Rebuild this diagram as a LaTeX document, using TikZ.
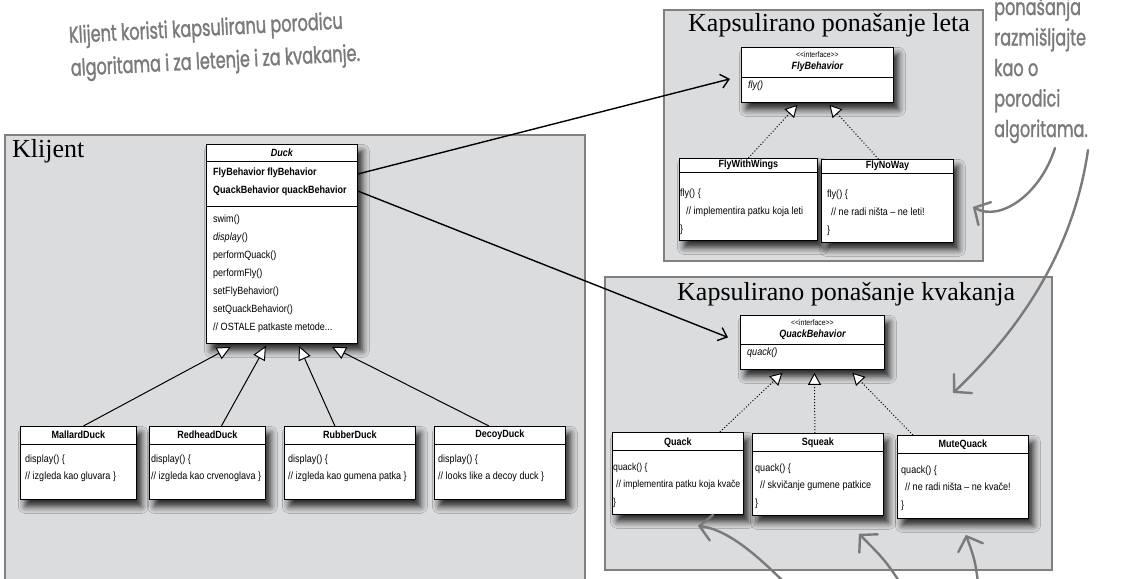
\documentclass[tikz,border=0pt]{standalone}
\usepackage{fontspec}
\setmainfont{Liberation Serif}
\newfontfamily\umlfont[FakeStretch=0.86]{Liberation Sans}
\newfontfamily\handfont[FakeStretch=0.70,FakeBold=1.2]{Poppins}
\usetikzlibrary{arrows.meta,shadows.blur}
\definecolor{panelgray}{RGB}{219,220,222}
\definecolor{panelline}{RGB}{128,128,128}
\definecolor{handgray}{RGB}{122,122,122}
\tikzset{
  panel/.style={draw=panelline,line width=2pt,fill=panelgray,anchor=north west,inner sep=0pt},
  paneltitle/.style={anchor=base west,inner sep=0pt,font=\fontsize{26}{30}\selectfont},
  classbox/.style={draw,line width=.8pt,fill=white,anchor=north west,inner sep=0pt,
    blur shadow={shadow xshift=5pt,shadow yshift=-7pt,shadow blur radius=7pt,shadow opacity=85}},
  classname/.style={inner sep=0pt,font=\umlfont\fontsize{10.5}{12}\selectfont\bfseries},
  ifacename/.style={inner sep=0pt,font=\umlfont\fontsize{10.5}{12}\selectfont\bfseries\itshape},
  stereo/.style={inner sep=0pt,font=\umlfont\fontsize{8}{9}\selectfont},
  classtext/.style={anchor=base west,inner sep=0pt,align=left,font=\umlfont\fontsize{10.5}{17.5}\selectfont},
  fieldtext/.style={anchor=base west,inner sep=0pt,align=left,font=\umlfont\fontsize{10.5}{18}\selectfont\bfseries},
  sepline/.style={line width=.8pt},
  uses/.style={-{Straight Barb[length=8pt,width=14pt]},line width=1.4pt},
  inherits/.style={-{Triangle[length=14pt,width=13pt,fill=white]},line width=1pt},
  implements/.style={-{Triangle[length=12pt,width=13pt,fill=white]},line width=1pt,dotted},
  handnote/.style={inner sep=0pt,align=left,text=handgray,font=\handfont\fontsize{23}{33}\selectfont},
  handarrow/.style={draw=handgray,line width=2.4pt,line cap=round,-{Straight Barb[length=12pt,width=26pt,line cap=round]}}
}

\begin{document}
\begin{tikzpicture}[x=1pt,y=-1pt]
  \clip (0,0) rectangle (1131,578);

  % handwritten notes (base = last line)
  \node[handnote,anchor=base west,rotate=3] (clientnote) at (71,76) {Klijent koristi kapsuliranu porodicu\\algoritama i za letenje i za kvakanje.};
  \node[handnote,anchor=base west,font=\handfont\fontsize{23}{30.5}\selectfont] (familynote) at (994,137) {ponašanja\\razmišljajte\\kao o\\porodici\\algoritama.};

  % the three grey frames
  \node[panel,minimum width=580,minimum height=470] (clientpanel) at (4,134) {};
  \node[paneltitle] (clienttitle) at (12,157) {Klijent};
  \node[panel,minimum width=319,minimum height=251] (flypanel) at (663,9) {};
  \node[paneltitle] (flytitle) at (688,32) {Kapsulirano ponašanje leta};
  \node[panel,minimum width=447,minimum height=293] (quackpanel) at (604,276) {};
  \node[paneltitle] (quacktitle) at (677,300) {Kapsulirano ponašanje kvakanja};

  % Duck
  \node[classbox,minimum width=151,minimum height=199] (duck) at (206,144) {};
  \draw[sepline] ([yshift=-17pt]duck.north west) -- ([yshift=-17pt]duck.north east);
  \draw[sepline] ([yshift=-62pt]duck.north west) -- ([yshift=-62pt]duck.north east);
  \node[ifacename] (duckname) at ([yshift=-9pt]duck.north) {Duck};
  \node[fieldtext] (duckfields) at ([xshift=7pt,yshift=-49pt]duck.north west) {FlyBehavior flyBehavior\\QuackBehavior quackBehavior};
  \node[classtext,font=\umlfont\fontsize{10.5}{18}\selectfont] (duckmethods) at ([xshift=7pt,yshift=-186pt]duck.north west) {swim()\\\textit{display}()\\performQuack()\\performFly()\\setFlyBehavior()\\setQuackBehavior()\\// OSTALE patkaste metode...};

  % ducks
  \node[classbox,minimum width=116,minimum height=73] (mallard) at (20,426) {};
  \draw[sepline] ([yshift=-18pt]mallard.north west) -- ([yshift=-18pt]mallard.north east);
  \node[classname] (mallardname) at ([yshift=-9pt]mallard.north) {MallardDuck};
  \node[classtext] (mallardbody) at ([xshift=5pt,yshift=-53.5pt]mallard.north west) {display() \{\\// izgleda kao gluvara \}};

  \node[classbox,minimum width=116,minimum height=73] (redhead) at (149,426) {};
  \draw[sepline] ([yshift=-18pt]redhead.north west) -- ([yshift=-18pt]redhead.north east);
  \node[classname] (redheadname) at ([yshift=-9pt]redhead.north) {RedheadDuck};
  \node[classtext] (redheadbody) at ([xshift=2pt,yshift=-53.5pt]redhead.north west) {display() \{\\// izgleda kao crvenoglava \}};

  \node[classbox,minimum width=131,minimum height=73] (rubber) at (284,426) {};
  \draw[sepline] ([yshift=-18pt]rubber.north west) -- ([yshift=-18pt]rubber.north east);
  \node[classname] (rubbername) at ([yshift=-9pt]rubber.north) {RubberDuck};
  \node[classtext] (rubberbody) at ([xshift=4pt,yshift=-53.5pt]rubber.north west) {display() \{\\// izgleda kao gumena patka \}};

  \node[classbox,minimum width=131,minimum height=73] (decoy) at (434,426) {};
  \draw[sepline] ([yshift=-18pt]decoy.north west) -- ([yshift=-18pt]decoy.north east);
  \node[classname] (decoyname) at ([yshift=-9pt]decoy.north) {DecoyDuck};
  \node[classtext] (decoybody) at ([xshift=4pt,yshift=-53.5pt]decoy.north west) {display() \{\\// looks like a decoy duck \}};

  % fly behaviour
  \node[classbox,minimum width=152,minimum height=55] (flybeh) at (741,47) {};
  \draw[sepline] ([yshift=-30pt]flybeh.north west) -- ([yshift=-30pt]flybeh.north east);
  \node[stereo] (flystereo) at ([yshift=-8pt]flybeh.north) {<<interface>>};
  \node[ifacename] (flyname) at ([yshift=-20pt]flybeh.north) {FlyBehavior};
  \node[classtext] (flymethods) at ([xshift=7pt,yshift=-41pt]flybeh.north west) {\textit{fly()}};

  \node[classbox,minimum width=138,minimum height=82] (flywings) at (679,158) {};
  \draw[sepline] ([yshift=-14pt]flywings.north west) -- ([yshift=-14pt]flywings.north east);
  \node[classname] (flywingsname) at ([yshift=-7pt]flywings.north) {FlyWithWings};
  \node[classtext,font=\umlfont\fontsize{10.5}{18}\selectfont] (flywingsbody) at ([xshift=1pt,yshift=-74pt]flywings.north west) {fly() \{\\\hspace*{6pt}// implementira patku koja leti\\\}};

  \node[classbox,minimum width=132,minimum height=83] (flynoway) at (821,159) {};
  \draw[sepline] ([yshift=-14pt]flynoway.north west) -- ([yshift=-14pt]flynoway.north east);
  \node[classname] (flynowayname) at ([yshift=-7pt]flynoway.north) {FlyNoWay};
  \node[classtext,font=\umlfont\fontsize{10.5}{18}\selectfont] (flynowaybody) at ([xshift=6pt,yshift=-74pt]flynoway.north west) {fly() \{\\\hspace*{4pt}// ne radi ništa – ne leti!\\\}};

  % quack behaviour
  \node[classbox,minimum width=144,minimum height=54] (quackbeh) at (740,315) {};
  \draw[sepline] ([yshift=-29pt]quackbeh.north west) -- ([yshift=-29pt]quackbeh.north east);
  \node[stereo] (quackstereo) at ([yshift=-8pt]quackbeh.north) {<<interface>>};
  \node[ifacename] (quackname) at ([yshift=-20pt]quackbeh.north) {QuackBehavior};
  \node[classtext] (quackmethods) at ([xshift=7pt,yshift=-40pt]quackbeh.north west) {\textit{quack()}};

  \node[classbox,minimum width=131,minimum height=82] (quack) at (612,432) {};
  \draw[sepline] ([yshift=-18pt]quack.north west) -- ([yshift=-18pt]quack.north east);
  \node[classname] (quackclsname) at ([yshift=-11pt]quack.north) {Quack};
  \node[classtext,font=\umlfont\fontsize{10.1}{17.5}\selectfont] (quackbody) at ([xshift=1pt,yshift=-73pt]quack.north west) {quack() \{\\\hspace*{3pt}// implementira patku koja kvače\\\}};

  \node[classbox,minimum width=131,minimum height=82] (squeak) at (752,433) {};
  \draw[sepline] ([yshift=-18pt]squeak.north west) -- ([yshift=-18pt]squeak.north east);
  \node[classname] (squeakname) at ([yshift=-10pt]squeak.north) {Squeak};
  \node[classtext] (squeakbody) at ([xshift=3pt,yshift=-73pt]squeak.north west) {quack() \{\\\hspace*{5pt}// skvičanje gumene patkice\\\}};

  \node[classbox,minimum width=131,minimum height=83] (mutequack) at (897,435) {};
  \draw[sepline] ([yshift=-18pt]mutequack.north west) -- ([yshift=-18pt]mutequack.north east);
  \node[classname] (mutequackname) at ([yshift=-10pt]mutequack.north) {MuteQuack};
  \node[classtext] (mutequackbody) at ([xshift=4pt,yshift=-73pt]mutequack.north west) {quack() \{\\\hspace*{4pt}// ne radi ništa – ne kvače!\\\}};

  % has-a
  \draw[uses] ([yshift=-30pt]duck.north east) -- ([xshift=-11pt,yshift=-4pt]flybeh.west);
  \draw[uses] ([yshift=-47pt]duck.north east) -- ([xshift=-12pt,yshift=5pt]quackbeh.west);

  % is-a
  \draw[inherits] ([xshift=5pt]mallard.north) -- ([xshift=-51pt,yshift=-3pt]duck.south);
  \draw[inherits] ([xshift=14pt]redhead.north) -- ([xshift=-16pt,yshift=-2pt]duck.south);
  \draw[inherits] ([xshift=-15pt]rubber.north) -- ([xshift=17pt,yshift=-2pt]duck.south);
  \draw[inherits] ([xshift=-11pt]decoy.north) -- ([xshift=50pt,yshift=-3pt]duck.south);

  % implements
  \draw[implements] (flywings.north) -- ([xshift=-20pt,yshift=-2pt]flybeh.south);
  \draw[implements] ([xshift=-9pt]flynoway.north) -- ([xshift=12pt,yshift=-2pt]flybeh.south);
  \draw[implements] ([xshift=42pt]quack.north) -- ([xshift=-30pt,yshift=-3pt]quackbeh.south);
  \draw[implements] ([xshift=-3pt]squeak.north) -- ([xshift=2pt,yshift=-3pt]quackbeh.south);
  \draw[implements] ([xshift=-50pt]mutequack.north) -- ([xshift=40pt,yshift=-3pt]quackbeh.south);

  % handwritten arrows
  \coordinate (famtail1) at (1055,148);
  \coordinate (famtail2) at (1088,150);
  \coordinate (famtip2) at (953,393);
  \coordinate (bottail1) at (792,590);
  \coordinate (bottail2) at (905,590);
  \coordinate (bottail3) at (979,590);
  \draw[handarrow] (famtail1) .. controls (1040,195) and (1000,222) .. ([xshift=19pt,yshift=-6pt]flynoway.east);
  \draw[handarrow] (famtail2) .. controls (1075,240) and (1030,320) .. (famtip2);
  \draw[handarrow] (bottail1) .. controls (760,558) and (730,530) .. ([xshift=20pt,yshift=-11pt]quack.south);
  \draw[handarrow] (bottail2) .. controls (885,560) .. ([xshift=41pt,yshift=-18pt]squeak.south);
  \draw[handarrow] (bottail3) .. controls (975,560) .. ([xshift=3pt,yshift=-16pt]mutequack.south);
\end{tikzpicture}
\end{document}
